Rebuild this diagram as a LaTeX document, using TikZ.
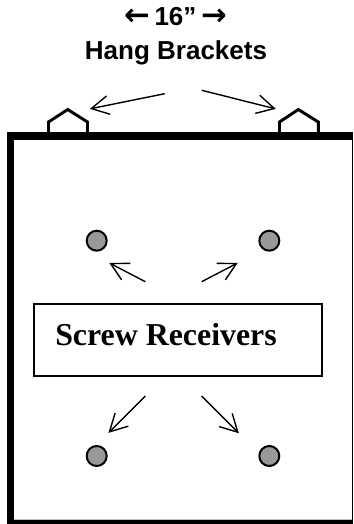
\documentclass[tikz,border=0pt]{standalone}
\usepackage{fontspec}
\setmainfont{Liberation Serif}
\newfontfamily\arialf{Liberation Sans}
\newfontfamily\djv{DejaVu Sans}
\usetikzlibrary{arrows.meta}
\pgfdeclarearrow{
  name=VBarb,
  setup code={\pgfarrowssetlineend{-0.3pt}\pgfarrowssettipend{0.5pt}\pgfarrowssetbackend{-13pt}\pgfarrowssetvisualbackend{-13pt}},
  drawing code={\pgfsetdash{}{0pt}\pgfsetmiterjoin
    \pgfpathmoveto{\pgfqpoint{-13pt}{7pt}}\pgfpathlineto{\pgfqpoint{0pt}{0pt}}\pgfpathlineto{\pgfqpoint{-13pt}{-7pt}}\pgfusepathqstroke}
}
\tikzset{
  x=0.75pt,y=-0.75pt,
  bracket/.style={line width=2.2pt,line join=miter},
  pointer/.style={line width=1.05pt,-VBarb},
  hole/.style={circle,draw=black,fill=black!40,line width=1.5pt,minimum size=15pt,inner sep=0pt},
  titletext/.style={font=\arialf\bfseries\fontsize{19.5pt}{19pt}\selectfont,anchor=base,inner sep=0pt},
  labelbox/.style={draw=black,line width=0.9pt,fill=white,inner sep=0pt,minimum width=216pt,minimum height=54pt},
  labeltext/.style={font=\bfseries\fontsize{23.9pt}{22pt}\selectfont,inner sep=0pt,anchor=base west}
}
\newcommand{\titlearrow}[1]{{\djv\bfseries\fontsize{23pt}{19pt}\selectfont #1}}
\begin{document}
\begin{tikzpicture}
\useasboundingbox (0,0) rectangle (353,524);
\fill[white] (0,0) rectangle (353,524);
% title
\node[titletext] (dim) at (175.5,26) {\titlearrow{←}\hspace{3.5pt}16”\hspace{3.5pt}\titlearrow{→}};
\node[titletext] (title) at (176,59.5) {Hang Brackets};
% brackets
\draw[bracket] (48.5,134) -- (48.5,122) -- (67.7,109.5) -- (87.5,122) -- (87.5,134);
\draw[bracket] (279.5,134) -- (279.5,122) -- (298.3,109.5) -- (318.3,122) -- (318.3,134);
% frame
\fill[black] (6.5,132.5) rectangle (353,140);
\fill[black] (6.5,132.5) rectangle (14,524);
\fill[black] (6.5,520) rectangle (353,524);
\fill[black] (351.7,140) rectangle (353,520);
\fill[black!25] (14,519) rectangle (351.7,520);
% label
\node[labelbox] (box) at (178,340) {};
\node[labeltext] (lab) at (55,345) {Screw Receivers};
% holes
\node[hole] (h1) at (96.7,240.7) {};
\node[hole] (h2) at (269.3,240.7) {};
\node[hole] (h3) at (96.7,456) {};
\node[hole] (h4) at (269.3,456) {};
% arrows
\coordinate (a1s) at (164.7,93.7); \coordinate (a1e) at (90.7,108.7);
\coordinate (a2s) at (201.7,90.3); \coordinate (a2e) at (275,108.7);
\coordinate (a3s) at (145.3,281.7); \coordinate (a3e) at (110,263.3);
\coordinate (a4s) at (201.7,281.7); \coordinate (a4e) at (237,263.3);
\coordinate (a5s) at (145.3,396); \coordinate (a5e) at (109,432.3);
\coordinate (a6s) at (201.7,396); \coordinate (a6e) at (238.3,432.7);
\foreach \n in {1,...,6} \draw[pointer] (a\n s) -- (a\n e);
\end{tikzpicture}
\end{document}
